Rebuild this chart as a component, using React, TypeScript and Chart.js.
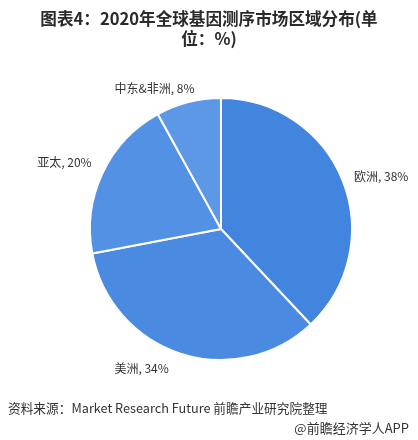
import React, { useEffect, useRef } from "react";
import { Chart, registerables } from "chart.js";

Chart.register(...registerables);

const categories = ["欧洲", "美洲", "亚太", "中东&非洲"];
const shares = [38, 34, 20, 8];
const sliceColors = ["#4285df", "#4a8ae1", "#5291e4", "#5c98e6"];
// small pixel nudges for label placement (layout only)
const labelNudge: [number, number][] = [
  [0, 0],
  [-8, 3],
  [0, -6],
  [9, -2],
];

const FONT = '"Noto Sans CJK SC", "Noto Sans", sans-serif';

const labelPlugin = {
  id: "outerLabels",
  afterDatasetsDraw(chart: any) {
    const ctx = chart.ctx;
    const meta = chart.getDatasetMeta(0);
    ctx.save();
    ctx.font = `12px ${FONT}`;
    ctx.fillStyle = "#333333";
    ctx.textBaseline = "middle";
    meta.data.forEach((arc: any, i: number) => {
      const p = arc.getProps(["x", "y", "startAngle", "endAngle", "outerRadius"], true);
      const mid = (p.startAngle + p.endAngle) / 2;
      const r = p.outerRadius + 12;
      const dx = Math.cos(mid);
      const dy = Math.sin(mid);
      const x = p.x + r * dx + labelNudge[i][0];
      const y = p.y + r * dy + labelNudge[i][1];
      ctx.textAlign = dx > 0 ? "left" : "right";
      ctx.fillText(`${categories[i]}, ${shares[i]}%`, x, y);
    });
    ctx.restore();
  },
};

export default function App() {
  const ref = useRef<HTMLCanvasElement | null>(null);

  useEffect(() => {
    if (!ref.current) return;
    const chart = new Chart(ref.current, {
      type: "pie",
      data: {
        labels: categories,
        datasets: [
          {
            data: shares,
            backgroundColor: sliceColors,
            borderColor: "#ffffff",
            borderWidth: 2,
          },
        ],
      },
      options: {
        animation: false,
        responsive: false,
        maintainAspectRatio: false,
        events: [],
        layout: { padding: { left: 89, right: 65, top: 97, bottom: 79 } },
        plugins: {
          legend: { display: false },
          tooltip: { enabled: false },
          title: { display: false },
        },
      },
      plugins: [labelPlugin],
    });
    return () => chart.destroy();
  }, []);

  return (
    <div
      style={{
        position: "fixed",
        left: 0,
        top: 0,
        width: 418,
        height: 440,
        background: "#ffffff",
        fontFamily: FONT,
        color: "#333333",
        overflow: "hidden",
      }}
    >
      <canvas ref={ref} width={418} height={440} style={{ position: "absolute", left: 0, top: 0 }} />
      <div
        style={{
          position: "absolute",
          left: 0,
          top: 8,
          width: 418,
          textAlign: "center",
          fontWeight: "bold",
          fontSize: 16.6,
          lineHeight: "20px",
          color: "#2a2a2a",
        }}
      >
        图表4：2020年全球基因测序市场区域分布(单
        <br />
        位：%)
      </div>
      <div
        style={{
          position: "absolute",
          left: 8,
          top: 399,
          fontSize: 12.7,
          lineHeight: "18px",
          whiteSpace: "nowrap",
          color: "#333333",
        }}
      >
        资料来源：Market Research Future 前瞻产业研究院整理
      </div>
      <div
        style={{
          position: "absolute",
          right: 9,
          top: 419,
          fontSize: 13,
          lineHeight: "18px",
          whiteSpace: "nowrap",
          color: "#333333",
        }}
      >
        @前瞻经济学人APP
      </div>
    </div>
  );
}
